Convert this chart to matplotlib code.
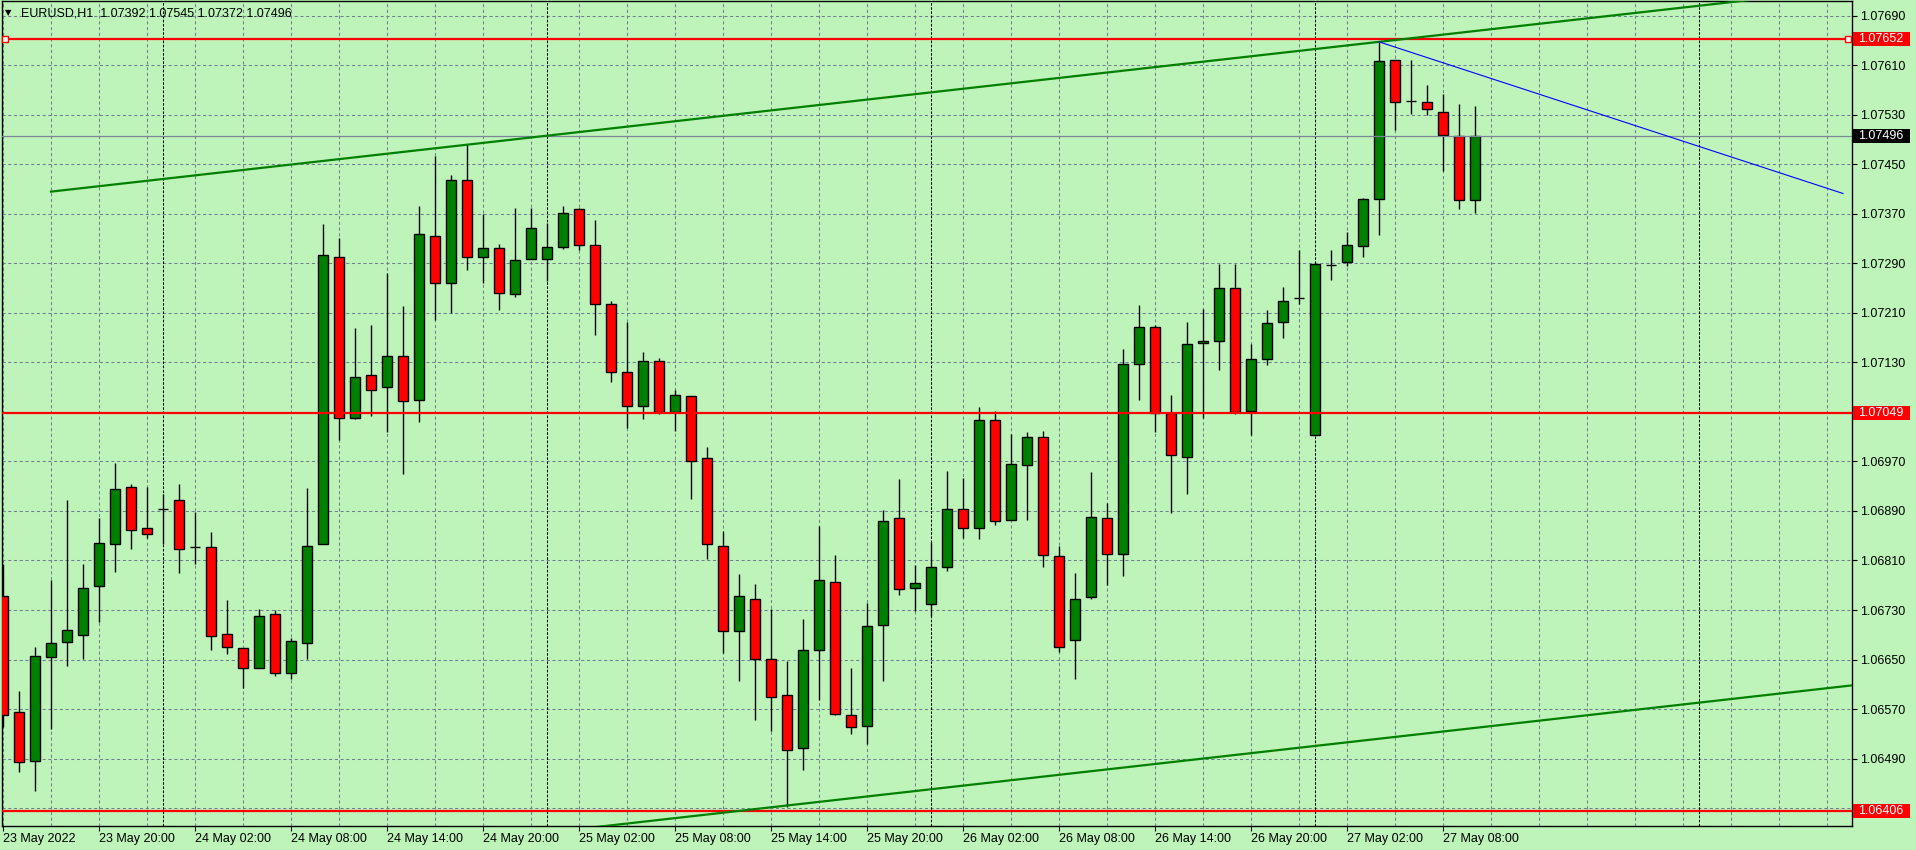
import matplotlib.pyplot as plt
from matplotlib.patches import Rectangle

# EURUSD H1, first bar 23 May 2022 14:00, last bar 27 May 2022 10:00
opens = [1.06752, 1.06566, 1.06486, 1.06654, 1.06678, 1.06690, 1.06769, 1.06836, 1.06928, 1.06862,
         1.06894, 1.06907, 1.06831, 1.06831, 1.06692, 1.06669, 1.06637, 1.06723, 1.06629, 1.06676,
         1.06836, 1.07301, 1.07040, 1.07109, 1.07091, 1.07140, 1.07069, 1.07335, 1.07259, 1.07425,
         1.07301, 1.07315, 1.07240, 1.07297, 1.07297, 1.07317, 1.07378, 1.07319, 1.07224, 1.07114,
         1.07059, 1.07132, 1.07050, 1.07075, 1.06975, 1.06834, 1.06696, 1.06747, 1.06651, 1.06592,
         1.06507, 1.06666, 1.06776, 1.06561, 1.06542, 1.06705, 1.06878, 1.06765, 1.06739, 1.06799,
         1.06894, 1.06862, 1.07037, 1.06875, 1.06964, 1.07009, 1.06817, 1.06682, 1.06751, 1.06878,
         1.06820, 1.07128, 1.07187, 1.07048, 1.06978, 1.07161, 1.07165, 1.07250, 1.07052, 1.07136,
         1.07195, 1.07234, 1.07013, 1.07287, 1.07292, 1.07318, 1.07394, 1.07618, 1.07552, 1.07551,
         1.07535, 1.07496, 1.07392]
highs = [1.06805, 1.06599, 1.06671, 1.06779, 1.06907, 1.06804, 1.06878, 1.06968, 1.06933, 1.06928,
         1.06917, 1.06933, 1.06889, 1.06856, 1.06746, 1.06669, 1.06731, 1.06730, 1.06684, 1.06927,
         1.07353, 1.07331, 1.07185, 1.07191, 1.07274, 1.07222, 1.07383, 1.07463, 1.07433, 1.07483,
         1.07370, 1.07321, 1.07380, 1.07380, 1.07356, 1.07383, 1.07380, 1.07360, 1.07230, 1.07196,
         1.07147, 1.07137, 1.07085, 1.07075, 1.06994, 1.06857, 1.06788, 1.06772, 1.06731, 1.06647,
         1.06716, 1.06866, 1.06819, 1.06636, 1.06742, 1.06892, 1.06941, 1.06803, 1.06840, 1.06955,
         1.06943, 1.07058, 1.07051, 1.07015, 1.07018, 1.07019, 1.06834, 1.06790, 1.06953, 1.06903,
         1.07151, 1.07223, 1.07190, 1.07078, 1.07195, 1.07217, 1.07289, 1.07289, 1.07159, 1.07214,
         1.07252, 1.07311, 1.07289, 1.07311, 1.07341, 1.07396, 1.07648, 1.07618, 1.07619, 1.07578,
         1.07564, 1.07548, 1.07545]
lows = [1.06541, 1.06469, 1.06438, 1.06537, 1.06640, 1.06651, 1.06710, 1.06792, 1.06828, 1.06846,
        1.06836, 1.06789, 1.06805, 1.06666, 1.06659, 1.06604, 1.06637, 1.06624, 1.06619, 1.06651,
        1.06836, 1.07004, 1.07038, 1.07043, 1.07017, 1.06950, 1.07034, 1.07199, 1.07210, 1.07280,
        1.07259, 1.07215, 1.07236, 1.07297, 1.07262, 1.07314, 1.07312, 1.07175, 1.07099, 1.07024,
        1.07039, 1.07046, 1.07019, 1.06910, 1.06812, 1.06661, 1.06616, 1.06552, 1.06535, 1.06412,
        1.06472, 1.06584, 1.06560, 1.06530, 1.06514, 1.06615, 1.06755, 1.06729, 1.06720, 1.06793,
        1.06846, 1.06844, 1.06868, 1.06875, 1.06875, 1.06799, 1.06662, 1.06619, 1.06747, 1.06771,
        1.06785, 1.07070, 1.07017, 1.06886, 1.06917, 1.07041, 1.07117, 1.07046, 1.07012, 1.07126,
        1.07169, 1.07225, 1.07013, 1.07264, 1.07286, 1.07300, 1.07336, 1.07505, 1.07532, 1.07530,
        1.07440, 1.07378, 1.07372]
closes = [1.06560, 1.06484, 1.06655, 1.06676, 1.06698, 1.06765, 1.06838, 1.06925, 1.06860, 1.06852,
          1.06894, 1.06828, 1.06831, 1.06688, 1.06671, 1.06637, 1.06721, 1.06629, 1.06680, 1.06833,
          1.07303, 1.07040, 1.07106, 1.07086, 1.07140, 1.07067, 1.07337, 1.07259, 1.07425, 1.07301,
          1.07315, 1.07242, 1.07295, 1.07347, 1.07317, 1.07372, 1.07319, 1.07224, 1.07115, 1.07059,
          1.07132, 1.07050, 1.07077, 1.06970, 1.06836, 1.06696, 1.06752, 1.06651, 1.06590, 1.06503,
          1.06666, 1.06778, 1.06562, 1.06541, 1.06704, 1.06874, 1.06764, 1.06773, 1.06799, 1.06893,
          1.06862, 1.07037, 1.06873, 1.06966, 1.07009, 1.06819, 1.06670, 1.06747, 1.06881, 1.06820,
          1.07127, 1.07188, 1.07048, 1.06980, 1.07159, 1.07165, 1.07250, 1.07050, 1.07136, 1.07193,
          1.07230, 1.07234, 1.07289, 1.07287, 1.07319, 1.07394, 1.07617, 1.07551, 1.07552, 1.07539,
          1.07497, 1.07393, 1.07496]

time_labels = ['23 May 2022', '23 May 20:00', '24 May 02:00', '24 May 08:00', '24 May 14:00',
               '24 May 20:00', '25 May 02:00', '25 May 08:00', '25 May 14:00', '25 May 20:00',
               '26 May 02:00', '26 May 08:00', '26 May 14:00', '26 May 20:00', '27 May 02:00',
               '27 May 08:00']
label_bars = [0, 6, 12, 18, 24, 30, 36, 42, 48, 54, 60, 66, 72, 78, 84, 90]
day_starts = [10, 34, 58, 82, 106]
price_grid = [1.07690, 1.07610, 1.07530, 1.07450, 1.07370, 1.07290, 1.07210, 1.07130, 1.07050,
              1.06970, 1.06890, 1.06810, 1.06730, 1.06650, 1.06570, 1.06490, 1.06410]
red_levels = [1.07652, 1.07049, 1.06406]
bid = 1.07496

# trend lines: (bar, price) anchors
upper_channel = [(3, 1.07406), (86, 1.07648)]
channel_gap = 0.01126
blue_line = [(86, 1.07648), (115, 1.07403)]

BG = '#BEF4BA'
UP = '#008000'
DOWN = '#FF0000'
GRIDC = '#6F7F90'
FONT = 'Liberation Sans'
W, H = 1916, 850

fig = plt.figure(figsize=(W / 100, H / 100), dpi=100)
fig.patch.set_facecolor(BG)
ax = fig.add_axes([2 / W, 24 / H, 1850 / W, 825 / H])
ax.set_facecolor(BG)
ax.set_xlim(-1 / 16, 1849 / 16)
ax.set_ylim(1.06381, 1.07714)
for s in ax.spines.values():
    s.set_color('black')
    s.set_linewidth(1.0)

# grid
for k in range(0, 116, 3):
    ax.axvline(k, color=GRIDC, lw=0.75, ls=(0, (3, 2.5)), zorder=1)
for p in price_grid:
    ax.axhline(p, color=GRIDC, lw=0.75, ls=(0, (3, 2.5)), zorder=1)
for d in day_starts:
    ax.axvline(d, color='black', lw=0.75, ls=(0, (2.5, 1.5)), zorder=1.2)

# candles
n = len(opens)
xs = list(range(n))
ax.vlines(xs, lows, highs, color='black', lw=1.0, zorder=2)
bottoms = [min(o, c) for o, c in zip(opens, closes)]
heights = [abs(c - o) for o, c in zip(opens, closes)]
colors = [UP if c > o else DOWN for o, c in zip(opens, closes)]
ax.bar(xs, heights, width=0.62, bottom=bottoms, color=colors, edgecolor='black',
       linewidth=1.0, zorder=3)

# horizontal lines
ax.axhline(bid, color='#7A8696', lw=0.9, zorder=4)
for p in red_levels:
    ax.axhline(p, color='#FF0000', lw=1.6, zorder=5)
ax.plot([0.1, 115.3], [red_levels[0]] * 2, 's', ms=4, mfc='white', mec='#FF0000',
        mew=1.0, zorder=6, clip_on=False)

# channel and blue trend line
(x0, y0), (x1, y1) = upper_channel
slope = (y1 - y0) / (x1 - x0)
xe = 140
ax.plot([x0, xe], [y0, y0 + slope * (xe - x0)], color=UP, lw=1.6, zorder=5)
ax.plot([x0, xe], [y0 - channel_gap, y0 - channel_gap + slope * (xe - x0)],
        color=UP, lw=1.6, zorder=5)
ax.plot([blue_line[0][0], blue_line[1][0]], [blue_line[0][1], blue_line[1][1]],
        color='#0000FF', lw=0.8, zorder=5)

# axes ticks
ax.yaxis.tick_right()
ax.set_yticks(price_grid)
ylabels = ['' if p in (1.07050, 1.06410) else f'{p:.5f}' for p in price_grid]
ax.set_yticklabels(ylabels, fontsize=9, family=FONT)
ax.tick_params(axis='y', direction='out', length=3.5, width=0.8, pad=2.5, colors='black')
ax.set_xticks(label_bars)
ax.set_xticklabels(time_labels, fontsize=9, family=FONT)
for lab in ax.get_xticklabels():
    lab.set_ha('left')
ax.tick_params(axis='x', direction='out', length=3.5, width=0.8, pad=1.5, colors='black')

# price labels on the right
tr = ax.get_yaxis_transform()
box_h = 14 * (1.07714 - 1.06381) / 825
for p, fc in [(red_levels[0], '#FF0000'), (red_levels[1], '#FF0000'),
              (red_levels[2], '#FF0000'), (bid, 'black')]:
    ax.add_patch(Rectangle((1 + 1 / 1850, p - box_h / 2), 57 / 1850, box_h, transform=tr,
                           facecolor=fc, edgecolor='none', clip_on=False, zorder=10))
    ax.text(1 + 6 / 1850, p, f'{p:.5f}', transform=tr, color='white', fontsize=9,
            family=FONT, va='center', ha='left', clip_on=False, zorder=11)

# header
fig.text(5 / W, 1 - 13 / H, '\u25bc', fontsize=6, family='DejaVu Sans', va='center',
         ha='left', color='black')
fig.text(21 / W, 1 - 13 / H, 'EURUSD,H1  1.07392 1.07545 1.07372 1.07496', fontsize=9,
         family=FONT, va='center', ha='left', color='black')

fig.savefig('out.png', dpi=100, facecolor=BG)
